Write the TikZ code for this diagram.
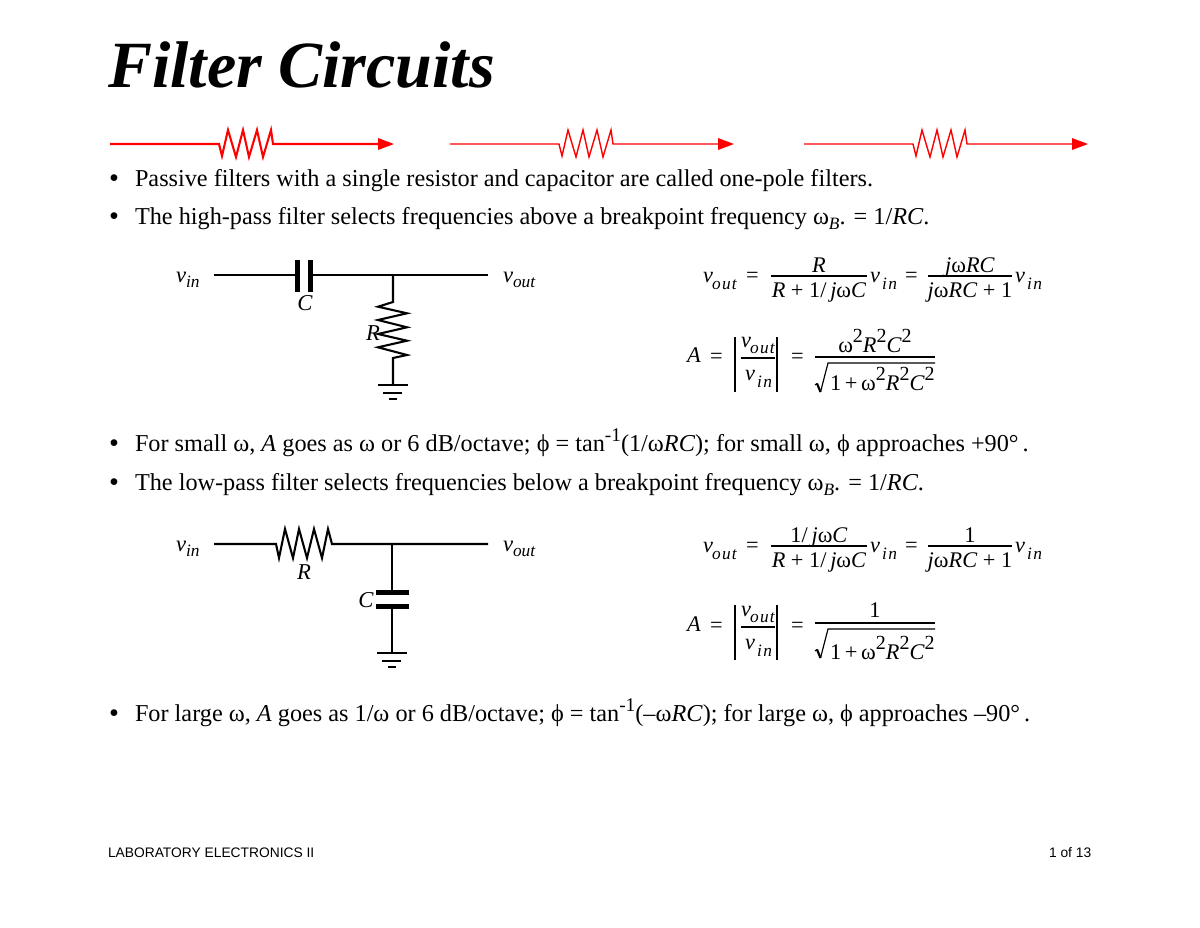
\documentclass[tikz,border=0pt]{standalone}
\usepackage{fontspec}
\setmainfont{Liberation Serif}
\newfontfamily\footfont{Liberation Sans}
\newcommand\bodyf{\fontsize{14.55}{16}\selectfont}
\newcommand\bulf{\fontsize{17}{18}\selectfont}
\newcommand\eqf{\fontsize{13.4}{15}\selectfont}
\newcommand\subf{\fontsize{10.4}{12}\selectfont}
\newcommand\cirf{\fontsize{13.6}{15}\selectfont}
\newcommand\isub[1]{\raisebox{-3pt}{\fontsize{10.4}{12}\selectfont\itshape #1}}
\newcommand\isup[1]{\raisebox{6pt}{\fontsize{12}{13}\selectfont #1}}
\newcommand\bsup[1]{\raisebox{5.6pt}{\fontsize{11.6}{13}\selectfont #1}}
\newcommand\om{ω}
\newcommand\spout{\subf\itshape o\kern0.9pt u\kern0.6pt t}
\newcommand\spin{\subf\itshape i\kern0.9pt n}
\tikzset{
  txt/.style={anchor=base west,inner sep=0pt,outer sep=0pt},
  mid/.style={anchor=base,inner sep=0pt,outer sep=0pt},
  wire/.style={draw=black,line width=1.25pt,line join=miter},
  redwire/.style={draw=red,line width=#1,line join=miter},
  plate/.style={draw=black,line width=3pt},
  fracbar/.style={draw=black,line width=0.7pt},
  absbar/.style={draw=black,line width=0.7pt},
  absbarr/.style={draw=black,line width=1.1pt},
}
\newcommand\redline[3]{%
  \begin{scope}[xshift=#1*0.6pt]
    \coordinate (r#3a) at (110,144);
    \coordinate (r#3b) at (219,144);
    \coordinate (r#3c) at (273,144);
    \coordinate (r#3d) at (380,144);
    \coordinate (r#3e) at (394,144);
    \draw[redwire=#2] (r#3a) -- (r#3b) -- (222,156) -- (228,130) -- (236,157) -- (243,130) -- (249,157) -- (257,130) -- (263,157) -- (271,130) -- (r#3c) -- (r#3d);
    \fill[red] (r#3e) -- (378,138) -- (378,150) -- cycle;
  \end{scope}}
\newcommand\gnd[3]{%
  \draw[wire,line width=1.1pt] (#1-15,#2) -- (#1+15,#2);
  \draw[wire,line width=1.1pt] (#1-10,#2+8) -- (#1+9,#2+8);
  \draw[wire,line width=1.1pt] (#1-4,#2+14) -- (#1+4,#2+14);}
\begin{document}
\begin{tikzpicture}[x=0.6pt,y=-0.6pt]
\useasboundingbox (0,0) rectangle (1200,927);
\fill[white] (0,0) rectangle (1200,927);
\node[txt] (title) at (108,87) {\fontsize{39.6}{44}\selectfont\bfseries\itshape Filter Circuits};
\redline{0}{1.25pt}{A}
\redline{340}{0.85pt}{B}
\redline{694}{0.85pt}{C}
\node[txt] (b1) at (109,187) {\bulf •};
\node[txt] (l1) at (135,186) {\bodyf Passive filters with a single resistor and capacitor are called one-pole filters.};
\node[txt] (b2) at (109,225) {\bulf •};
\node[txt] (l2) at (135,224) {\bodyf The high-pass filter selects frequencies above a breakpoint frequency \om\isub{B}. = 1/\textit{RC}.};
\node[txt] (b3) at (109,452) {\bulf •};
\node[txt] (l3) at (135,451) {\bodyf For small \om, \textit{A} goes as \om\ or 6 dB/octave; ϕ = tan\bsup{-1}(1/\om\textit{RC}); for small \om, ϕ approaches +90°\,.};
\node[txt] (b4) at (109,491) {\bulf •};
\node[txt] (l4) at (135,490) {\bodyf The low-pass filter selects frequencies below a breakpoint frequency \om\isub{B}. = 1/\textit{RC}.};
\node[txt] (b5) at (109,722) {\bulf •};
\node[txt] (l5) at (135,721) {\bodyf For large \om, \textit{A} goes as 1/\om\ or 6 dB/octave; ϕ = tan\bsup{-1}(–\om\textit{RC}); for large \om, ϕ approaches –90°\,.};
\node[txt] (f1) at (108,857) {\footfont\fontsize{8.28}{10}\selectfont LABORATORY ELECTRONICS II};
\node[txt] (f2) at (1049,857) {\footfont\fontsize{8.28}{10}\selectfont 1 of 13};
% high-pass circuit
\node[txt] (vi1) at (176,282) {\cirf\itshape v\isub{in}};
\node[txt] (vo1) at (503,282) {\cirf\itshape v\isub{out}};
\coordinate (h1) at (214,275);
\coordinate (h2) at (297,275);
\coordinate (h3) at (310,275);
\coordinate (hj) at (393,275);
\coordinate (h4) at (488,275);
\coordinate (hr) at (393,302);
\coordinate (hre) at (393,358);
\coordinate (hg) at (393,385);
\draw[wire] (h1) -- (h2);
\draw[wire] (h3) -- (h4);
\draw[plate] (297,260) -- (297,292);
\draw[plate] (310,260) -- (310,292);
\draw[wire] (hj) -- (hr) -- (378,306.7) -- (407,313.3) -- (378,320) -- (407,327.3) -- (378,334) -- (407,340.7) -- (378,347.3) -- (407,355) -- (hre) -- (hg);
\gnd{393}{385}{}
\node[mid] (hc) at (305,310) {\cirf\itshape C};
\node[mid] (hrl) at (373,340) {\cirf\itshape R};
% low-pass circuit
\node[txt] (vi2) at (176,551) {\cirf\itshape v\isub{in}};
\node[txt] (vo2) at (503,551) {\cirf\itshape v\isub{out}};
\coordinate (p1) at (214,544);
\coordinate (p2) at (276,544);
\coordinate (p3) at (332,544);
\coordinate (pj) at (392,544);
\coordinate (p4) at (488,544);
\coordinate (pc1) at (392,592);
\coordinate (pc2) at (392,606);
\coordinate (pg) at (392,653);
\draw[wire] (p1) -- (p2) -- (279,558) -- (285,529) -- (293,558) -- (299,529) -- (307,558) -- (314,529) -- (322,558) -- (328,529) -- (p3) -- (p4);
\draw[wire] (pj) -- (pc1);
\draw[wire] (pc2) -- (pg);
\draw[plate] (376,592) -- (409,592);
\draw[plate] (376,606) -- (409,606);
\gnd{392}{653}{}
\node[mid] (pr) at (304,579) {\cirf\itshape R};
\node[mid] (pcl) at (366,607) {\cirf\itshape C};
% equation 1
\node[txt] (e1a) at (703,282) {\eqf\itshape v};
\node[txt] (e1b) at (712,289) {\spout};
\node[txt] (e1c) at (746,282) {\eqf =};
\coordinate (e1f1) at (771,276); \coordinate (e1f2) at (867,276);
\draw[fracbar] (e1f1) -- (e1f2);
\node[mid] (e1n) at (819,272) {\eqf\itshape R};
\node[mid] (e1d) at (819,297) {\eqf\textit{R} + 1/\,\textit{j}\om\textit{C}};
\node[txt] (e1e) at (870,282) {\eqf\itshape v};
\node[txt] (e1g) at (882,289) {\spin};
\node[txt] (e1h) at (905,282) {\eqf =};
\coordinate (e1f3) at (928,276); \coordinate (e1f4) at (1012,276);
\draw[fracbar] (e1f3) -- (e1f4);
\node[mid] (e1i) at (970,272) {\eqf\textit{j}\om\textit{RC}};
\node[mid] (e1j) at (970,297) {\eqf\textit{j}\om\textit{RC} + 1};
\node[txt] (e1k) at (1015,282) {\eqf\itshape v};
\node[txt] (e1l) at (1027,289) {\spin};
% equation 2
\node[txt] (e2a) at (687,362) {\eqf\itshape A};
\node[txt] (e2b) at (710,363) {\eqf =};
\coordinate (e2t1) at (735,337); \coordinate (e2b1) at (735,392);
\coordinate (e2t2) at (777,337); \coordinate (e2b2) at (777,392);
\draw[absbar] (e2t1) -- (e2b1);
\draw[absbarr] (e2t2) -- (e2b2);
\coordinate (e2f1) at (741,358); \coordinate (e2f2) at (775,358);
\draw[fracbar] (e2f1) -- (e2f2);
\node[txt] (e2c) at (741,347) {\eqf\itshape v};
\node[txt] (e2d) at (750,353) {\spout};
\node[txt] (e2e) at (745,380) {\eqf\itshape v};
\node[txt] (e2g) at (757,387) {\spin};
\node[txt] (e2h) at (791,363) {\eqf =};
\coordinate (e2f3) at (815,357); \coordinate (e2f4) at (935,357);
\draw[fracbar] (e2f3) -- (e2f4);
\node[mid] (e2i) at (875,352) {\eqf\om\isup{2}\textit{R}\isup{2}\textit{C}\isup{2}};
\coordinate (e2s) at (828,363); \coordinate (e2t) at (935,363);
\draw[fracbar] (815,385) -- (817,383.5);
\draw[fracbar,line width=1.3pt] (817,383.5) -- (820.5,392);
\draw[fracbar] (820.5,392) -- (e2s) -- (e2t);
\node[txt] (e2j) at (830,390) {\eqf 1\,+\,\om\isup{2}\textit{R}\isup{2}\textit{C}\isup{2}};
% equation 3
\node[txt] (e3a) at (703,552) {\eqf\itshape v};
\node[txt] (e3b) at (712,559) {\spout};
\node[txt] (e3c) at (746,552) {\eqf =};
\coordinate (e3f1) at (771,546); \coordinate (e3f2) at (867,546);
\draw[fracbar] (e3f1) -- (e3f2);
\node[mid] (e3n) at (819,542) {\eqf 1/\,\textit{j}\om\textit{C}};
\node[mid] (e3d) at (819,567) {\eqf\textit{R} + 1/\,\textit{j}\om\textit{C}};
\node[txt] (e3e) at (870,552) {\eqf\itshape v};
\node[txt] (e3g) at (882,559) {\spin};
\node[txt] (e3h) at (905,552) {\eqf =};
\coordinate (e3f3) at (928,546); \coordinate (e3f4) at (1012,546);
\draw[fracbar] (e3f3) -- (e3f4);
\node[mid] (e3i) at (970,542) {\eqf 1};
\node[mid] (e3j) at (970,567) {\eqf\textit{j}\om\textit{RC} + 1};
\node[txt] (e3k) at (1015,552) {\eqf\itshape v};
\node[txt] (e3l) at (1027,559) {\spin};
% equation 4
\node[txt] (e4a) at (687,631) {\eqf\itshape A};
\node[txt] (e4b) at (710,632) {\eqf =};
\coordinate (e4t1) at (735,605); \coordinate (e4b1) at (735,660);
\coordinate (e4t2) at (777,605); \coordinate (e4b2) at (777,660);
\draw[absbar] (e4t1) -- (e4b1);
\draw[absbarr] (e4t2) -- (e4b2);
\coordinate (e4f1) at (741,627); \coordinate (e4f2) at (775,627);
\draw[fracbar] (e4f1) -- (e4f2);
\node[txt] (e4c) at (741,616) {\eqf\itshape v};
\node[txt] (e4d) at (750,622) {\spout};
\node[txt] (e4e) at (745,649) {\eqf\itshape v};
\node[txt] (e4g) at (757,656) {\spin};
\node[txt] (e4h) at (791,632) {\eqf =};
\coordinate (e4f3) at (815,623); \coordinate (e4f4) at (935,623);
\draw[fracbar] (e4f3) -- (e4f4);
\node[mid] (e4i) at (875,617) {\eqf 1};
\coordinate (e4s) at (828,629); \coordinate (e4t) at (935,629);
\draw[fracbar] (815,651) -- (817,649.5);
\draw[fracbar,line width=1.3pt] (817,649.5) -- (820.5,658);
\draw[fracbar] (820.5,658) -- (e4s) -- (e4t);
\node[txt] (e4j) at (830,659) {\eqf 1\,+\,\om\isup{2}\textit{R}\isup{2}\textit{C}\isup{2}};
\end{tikzpicture}
\end{document}
